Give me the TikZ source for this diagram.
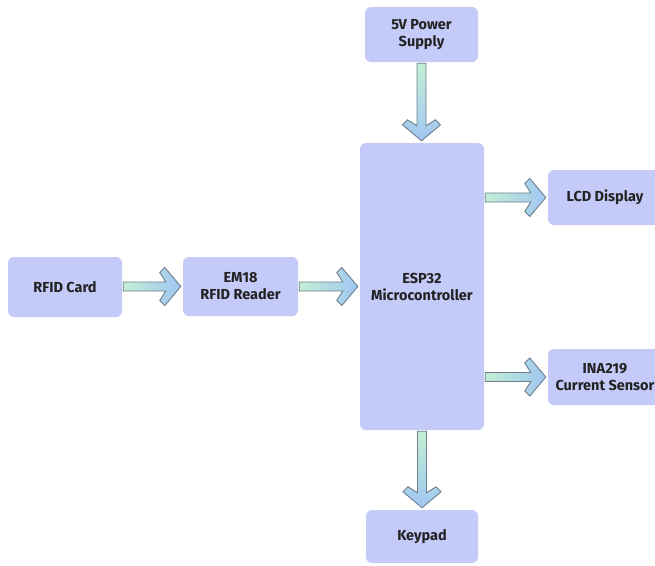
\documentclass[tikz,border=0pt]{standalone}
\usepackage{fontspec}
\setmainfont{Fira Sans}
\usetikzlibrary{calc}
\definecolor{boxfill}{HTML}{C5CBF9}
\definecolor{txt}{HTML}{222222}
\definecolor{mint}{HTML}{C2F0D4}
\definecolor{headblue}{HTML}{A0C6F2}
\definecolor{edge}{HTML}{6E7E8E}
\tikzset{
  box/.style={rounded corners=6pt, fill=boxfill, text=txt, align=center,
    font=\fontsize{14.5}{17}\selectfont\bfseries, inner sep=0pt},
  fat/.style={draw=edge, line width=0.9pt, line join=miter},
}
\newcommand{\rfat}[3]{%
  \path[fat, left color=mint, right color=headblue]
    let \p1=(#1.east), \p2=(#2.west), \p3=(#3.center) in
    (\x1+1pt,\y3+4.5pt) -- (\x2-17pt,\y3+4.5pt) -- (\x2-23pt,\y3+14pt) --
    (\x2-18pt,\y3+19pt) -- (\x2-2pt,\y3) -- (\x2-18pt,\y3-19pt) --
    (\x2-23pt,\y3-14pt) -- (\x2-17pt,\y3-4.5pt) -- (\x1+1pt,\y3-4.5pt) -- cycle;}
\newcommand{\dfat}[2]{%
  \path[fat, top color=mint, bottom color=headblue]
    let \p1=(#1.south), \p2=(#2.north) in
    (\x1-4.5pt,\y1-1pt) -- (\x1-4.5pt,\y2+17pt) -- (\x1-14pt,\y2+23pt) --
    (\x1-19pt,\y2+18pt) -- (\x1,\y2+2pt) -- (\x1+19pt,\y2+18pt) --
    (\x1+14pt,\y2+23pt) -- (\x1+4.5pt,\y2+17pt) -- (\x1+4.5pt,\y1-1pt) -- cycle;}
\begin{document}
\begin{tikzpicture}[x=1pt,y=-1pt]
\useasboundingbox (0,0) rectangle (655,565);
\fill[white] (0,0) rectangle (655,565);
\node[box, minimum width=113pt, minimum height=55pt] (power) at (421.5,34.5) {5V Power\\Supply};
\node[box, minimum width=124pt, minimum height=287pt] (esp) at (422,286.5) {ESP32\\Microcontroller};
\node[box, minimum width=114pt, minimum height=55pt] (lcd) at (605,197.5) {LCD Display};
\node[box, minimum width=114pt, minimum height=56pt] (ina) at (605,377) {INA219\\Current Sensor};
\node[box, minimum width=114pt, minimum height=60pt] (card) at (65,287) {RFID Card};
\node[box, minimum width=115pt, minimum height=59pt] (em) at (240.5,286.5) {EM18\\RFID Reader};
\node[box, minimum width=112pt, minimum height=53pt] (key) at (422,536.5) {Keypad};
\dfat{power}{esp}
\dfat{esp}{key}
\rfat{card}{em}{em}
\rfat{em}{esp}{em}
\rfat{esp}{lcd}{lcd}
\rfat{esp}{ina}{ina}
\end{tikzpicture}
\end{document}
